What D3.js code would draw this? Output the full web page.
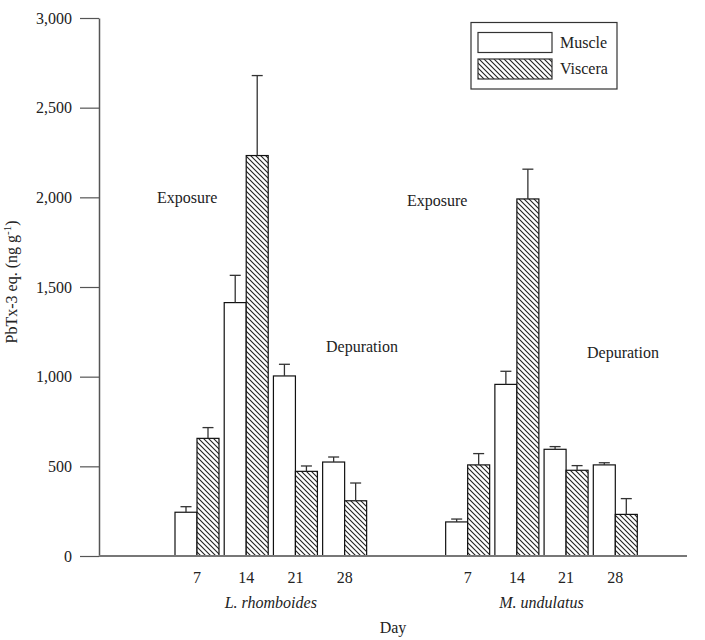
<!DOCTYPE html>
<html>
<head>
<meta charset="utf-8">
<script src="https://cdn.jsdelivr.net/npm/d3@7/dist/d3.min.js"></script>
<style>
  html, body { margin: 0; padding: 0; background: #fff; }
  svg, svg text { font-family: "Liberation Serif", "Times New Roman", serif; }
  svg { display: block; }
</style>
</head>
<body>
<svg id="chart" width="705" height="640"></svg>
<script>
// ---- data ----
const days = [7, 14, 21, 28];
const species = ["L. rhomboides", "M. undulatus"];
const seriesNames = ["Muscle", "Viscera"];
const yTicks = [0, 500, 1000, 1500, 2000, 2500, 3000];

const muscleL = [244, 1413, 1004, 524];
const muscleLErr = [31, 152, 65, 28];
const visceraL = [656, 2233, 472, 308];
const visceraLErr = [60, 446, 30, 99];

const muscleM = [190, 957, 595, 508];
const muscleMErr = [16, 73, 15, 12];
const visceraM = [508, 1991, 478, 232];
const visceraMErr = [63, 166, 26, 88];

// slot position of each species group (in day-steps)
const groupOffset = [0, 5.5];

// ---- build table ----
const groups = [
  { sp: species[0], muscle: muscleL, mErr: muscleLErr, viscera: visceraL, vErr: visceraLErr },
  { sp: species[1], muscle: muscleM, mErr: muscleMErr, viscera: visceraM, vErr: visceraMErr }
];
const bars = [];
const dayLabels = [];
groups.forEach((g, gi) => {
  days.forEach((d, di) => {
    const slot = groupOffset[gi] + di;
    dayLabels.push({ slot, day: d });
    bars.push({ slot, series: 0, value: g.muscle[di], err: g.mErr[di] });
    bars.push({ slot, series: 1, value: g.viscera[di], err: g.vErr[di] });
  });
});

// ---- layout ----
const svg = d3.select("#chart");
const axisLeftX = 99, baseRight = 687;
const y = d3.scaleLinear().domain([0, 3000]).range([556, 18]);
const x = d3.scaleLinear().domain([0, 8.5]).range([197, 615.3]);
const barW = 22;

// hatch pattern
const defs = svg.append("defs");
const pat = defs.append("pattern")
  .attr("id", "hatch").attr("patternUnits", "userSpaceOnUse")
  .attr("width", 5).attr("height", 5);
pat.append("rect").attr("width", 5).attr("height", 5).attr("fill", "#fff");
pat.append("path")
  .attr("d", "M0,0 L5,5 M-1,4 L1,6 M4,-1 L6,1")
  .attr("stroke", "#222").attr("stroke-width", 1.1);

const fills = ["#fff", "url(#hatch)"];

// y axis
const yAxis = svg.append("g")
  .attr("transform", `translate(${axisLeftX},0)`)
  .call(d3.axisLeft(y).tickValues(yTicks).tickFormat(d3.format(","))
    .tickSize(19).tickSizeOuter(0).tickPadding(8));
yAxis.attr("font-family", null);
yAxis.select(".domain").attr("stroke", "#555").attr("stroke-width", 1.5);
yAxis.selectAll(".tick line").attr("stroke", "#555").attr("stroke-width", 1.2);
yAxis.selectAll(".tick text").attr("font-size", 16).attr("fill", "#222");

// bars
svg.append("g").selectAll("rect").data(bars).join("rect")
  .attr("x", d => x(d.slot) + (d.series === 0 ? -barW : 0))
  .attr("y", d => y(d.value))
  .attr("width", barW)
  .attr("height", d => y(0) - y(d.value))
  .attr("fill", d => fills[d.series])
  .attr("stroke", "#111").attr("stroke-width", 1.2);

// error bars
const eb = svg.append("g").attr("stroke", "#333").attr("stroke-width", 1.3);
bars.forEach(d => {
  const cx = x(d.slot) + (d.series === 0 ? -barW / 2 : barW / 2);
  eb.append("line").attr("x1", cx).attr("x2", cx)
    .attr("y1", y(d.value)).attr("y2", y(d.value + d.err));
  eb.append("line").attr("x1", cx - 5.5).attr("x2", cx + 5.5)
    .attr("y1", y(d.value + d.err)).attr("y2", y(d.value + d.err));
});

// baseline
svg.append("line").attr("x1", axisLeftX).attr("x2", baseRight)
  .attr("y1", y(0)).attr("y2", y(0))
  .attr("stroke", "#777").attr("stroke-width", 2);

// day tick labels
svg.append("g").selectAll("text").data(dayLabels).join("text")
  .attr("x", d => x(d.slot)).attr("y", 583)
  .attr("text-anchor", "middle").attr("font-size", 16).attr("fill", "#222")
  .text(d => d.day);

// species labels
groups.forEach((g, gi) => {
  const cx = (x(groupOffset[gi]) + x(groupOffset[gi] + 3)) / 2;
  svg.append("text").attr("x", cx).attr("y", 608)
    .attr("text-anchor", "middle").attr("font-size", 16).attr("font-style", "italic")
    .attr("fill", "#222").text(g.sp);
});

// x axis title
svg.append("text").attr("x", (axisLeftX + baseRight) / 2).attr("y", 633)
  .attr("text-anchor", "middle").attr("font-size", 16).attr("fill", "#222").text("Day");

// y axis title
const yt = svg.append("text")
  .attr("transform", `translate(17,${(y(0) + y(3000)) / 2 - 5}) rotate(-90)`)
  .attr("text-anchor", "middle").attr("font-size", 16).attr("fill", "#222");
yt.append("tspan").text("PbTx-3 eq. (ng g");
yt.append("tspan").attr("font-size", 11).attr("dy", -6).text("-1");
yt.append("tspan").attr("dy", 6).text(")");

// annotations
const notes = [
  { t: "Exposure", x: 157, y: 203 },
  { t: "Depuration", x: 326, y: 352 },
  { t: "Exposure", x: 407, y: 206 },
  { t: "Depuration", x: 587, y: 358 }
];
svg.append("g").selectAll("text").data(notes).join("text")
  .attr("x", d => d.x).attr("y", d => d.y)
  .attr("font-size", 16).attr("fill", "#222").text(d => d.t);

// legend
const lg = svg.append("g");
lg.append("rect").attr("x", 471).attr("y", 22.5).attr("width", 146).attr("height", 66.5)
  .attr("fill", "#fff").attr("stroke", "#333").attr("stroke-width", 1.2);
seriesNames.forEach((s, i) => {
  const yy = 32.5 + i * 26.5;
  lg.append("rect").attr("x", 478).attr("y", yy).attr("width", 74).attr("height", 20)
    .attr("fill", fills[i]).attr("stroke", "#333").attr("stroke-width", 1.2);
  lg.append("text").attr("x", 560).attr("y", yy + 15).attr("font-size", 16)
    .attr("fill", "#222").text(s);
});
</script>
</body>
</html>
